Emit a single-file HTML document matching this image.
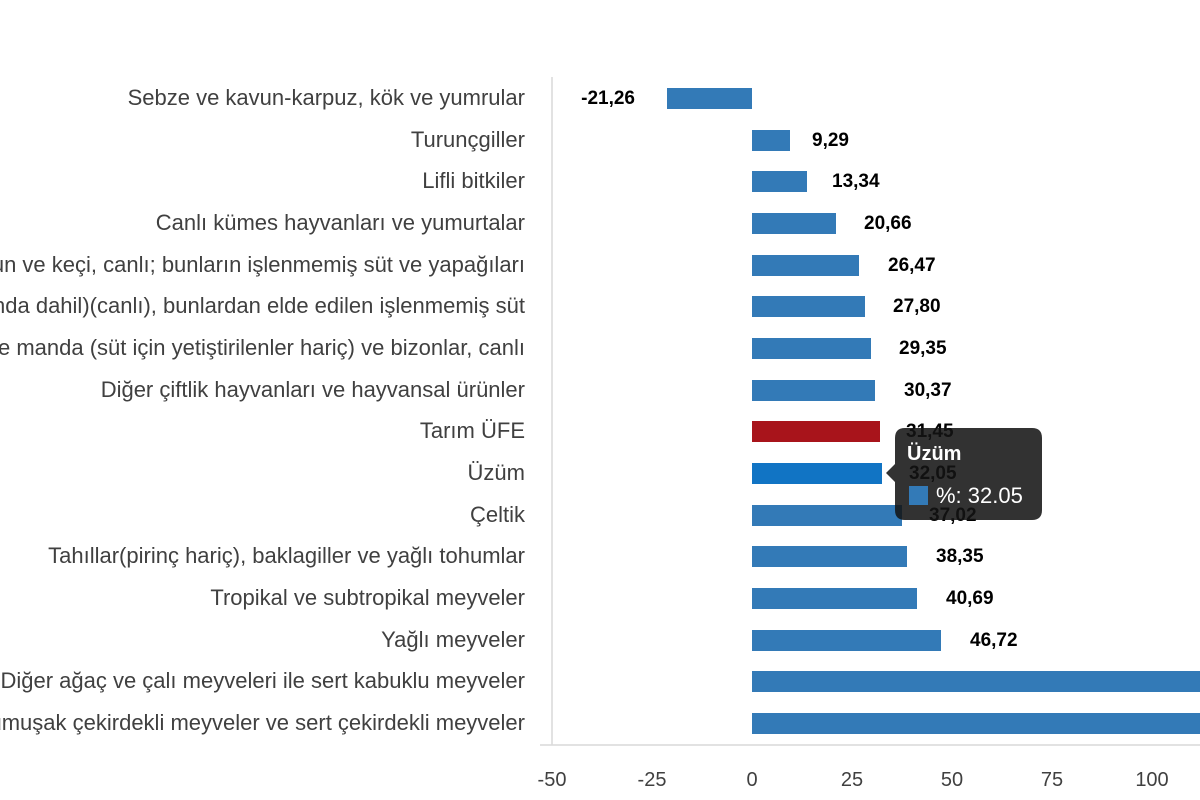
<!DOCTYPE html>
<html><head><meta charset="utf-8"><style>
html,body{margin:0;padding:0;background:#fff}
svg{display:block}
.lb{font-family:"Liberation Sans",sans-serif;font-size:22px;fill:#404040}
.v{font-family:"Liberation Sans",sans-serif;font-size:19px;font-weight:bold;fill:#000}
.t{font-family:"Liberation Sans",sans-serif;font-size:20px;fill:#404040}
</style></head><body>
<svg width="1200" height="800" viewBox="0 0 1200 800">
<line x1="552" y1="77" x2="552" y2="745" stroke="#d9d9d9" stroke-width="1.5"/>
<line x1="540" y1="745" x2="1200" y2="745" stroke="#d9d9d9" stroke-width="1.5"/>
<g text-anchor="end" class="lb">
<text x="525" y="105">Sebze ve kavun-karpuz, kök ve yumrular</text>
<text x="525" y="147">Turunçgiller</text>
<text x="525" y="188">Lifli bitkiler</text>
<text x="525" y="230">Canlı kümes hayvanları ve yumurtalar</text>
<text x="525" y="272">Koyun ve keçi, canlı; bunların işlenmemiş süt ve yapağıları</text>
<text x="525" y="313">Sığır (manda dahil)(canlı), bunlardan elde edilen işlenmemiş süt</text>
<text x="525" y="355">Sığır ve manda (süt için yetiştirilenler hariç) ve bizonlar, canlı</text>
<text x="525" y="397">Diğer çiftlik hayvanları ve hayvansal ürünler</text>
<text x="525" y="438">Tarım ÜFE</text>
<text x="525" y="480">Üzüm</text>
<text x="525" y="522">Çeltik</text>
<text x="525" y="563">Tahıllar(pirinç hariç), baklagiller ve yağlı tohumlar</text>
<text x="525" y="605">Tropikal ve subtropikal meyveler</text>
<text x="525" y="647">Yağlı meyveler</text>
<text x="525" y="688">Diğer ağaç ve çalı meyveleri ile sert kabuklu meyveler</text>
<text x="525" y="730">Yumuşak çekirdekli meyveler ve sert çekirdekli meyveler</text>
</g>
<g fill="#337ab7">
<rect x="667" y="88" width="85" height="21"/>
<rect x="752" y="130" width="38" height="21"/>
<rect x="752" y="171" width="55" height="21"/>
<rect x="752" y="213" width="84" height="21"/>
<rect x="752" y="255" width="107" height="21"/>
<rect x="752" y="296" width="113" height="21"/>
<rect x="752" y="338" width="119" height="21"/>
<rect x="752" y="380" width="123" height="21"/>
<rect x="752" y="421" width="128" height="21" fill="#a8141b"/>
<rect x="752" y="463" width="130" height="21" fill="#1174c4"/>
<rect x="752" y="505" width="150" height="21"/>
<rect x="752" y="546" width="155" height="21"/>
<rect x="752" y="588" width="165" height="21"/>
<rect x="752" y="630" width="189" height="21"/>
<rect x="752" y="671" width="448" height="21"/>
<rect x="752" y="713" width="448" height="21"/>
</g>
<g class="v">
<text x="635" y="104" text-anchor="end">-21,26</text>
<text x="812" y="146">9,29</text>
<text x="832" y="187">13,34</text>
<text x="864" y="229">20,66</text>
<text x="888" y="271">26,47</text>
<text x="893" y="312">27,80</text>
<text x="899" y="354">29,35</text>
<text x="904" y="396">30,37</text>
<text x="906" y="437">31,45</text>
<text x="909" y="479">32,05</text>
<text x="929" y="521">37,02</text>
<text x="936" y="562">38,35</text>
<text x="946" y="604">40,69</text>
<text x="970" y="646">46,72</text>
</g>
<g class="t" text-anchor="middle">
<text x="552" y="786">-50</text><text x="652" y="786">-25</text><text x="752" y="786">0</text>
<text x="852" y="786">25</text><text x="952" y="786">50</text><text x="1052" y="786">75</text><text x="1152" y="786">100</text>
</g>
<path d="M905 428 H1032 Q1042 428 1042 438 V510 Q1042 520 1032 520 H905 Q895 520 895 510 V482 L886 473 L895 464 V438 Q895 428 905 428 Z" fill="rgba(20,20,20,0.87)"/>
<text x="907" y="460" font-family="Liberation Sans,sans-serif" font-size="20" font-weight="bold" fill="#fff">Üzüm</text>
<rect x="909" y="486" width="19" height="19" fill="#337ab7"/>
<text x="936" y="503" font-family="Liberation Sans,sans-serif" font-size="22" fill="#fff">%: 32.05</text>
</svg>
</body></html>
